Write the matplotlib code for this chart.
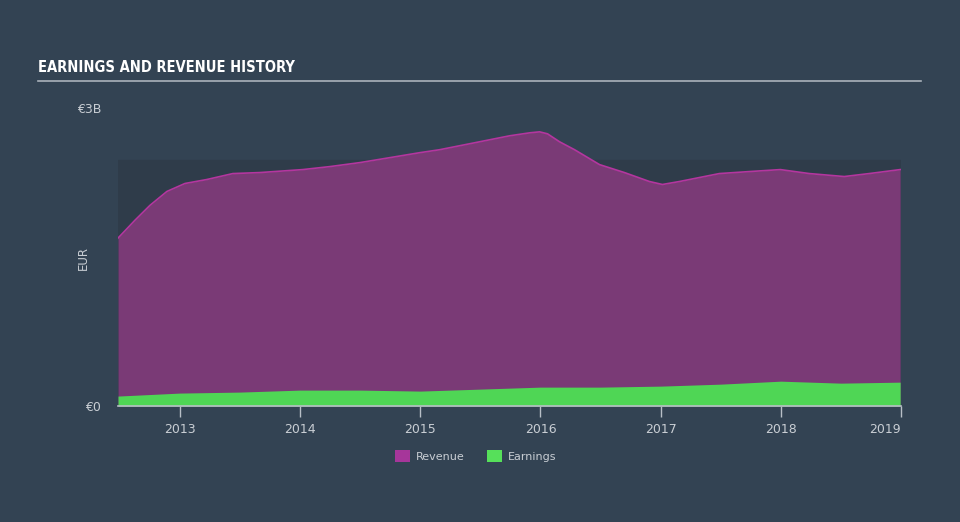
import matplotlib
matplotlib.use("Agg")
import matplotlib.pyplot as plt
from matplotlib.patches import Patch

# ---------------------------------------------------------------------------
# Data (EUR billions)
# ---------------------------------------------------------------------------
REV_YEARS = [2012.485, 2012.626, 2012.751, 2012.892, 2013.042, 2013.224, 2013.441,
             2013.665, 2014.022, 2014.247, 2014.496, 2014.746, 2014.995, 2015.161,
             2015.494, 2015.743, 2015.910, 2015.993, 2016.059, 2016.159, 2016.284,
             2016.492, 2016.699, 2016.907, 2017.015, 2017.157, 2017.489, 2017.738,
             2017.996, 2018.237, 2018.528, 2018.736, 2018.993]
REVENUE = [1.69, 1.87, 2.02, 2.16, 2.24, 2.28, 2.34,
           2.35, 2.38, 2.41, 2.45, 2.50, 2.55, 2.58,
           2.66, 2.72, 2.75, 2.76, 2.74, 2.66, 2.58,
           2.43, 2.35, 2.26, 2.23, 2.26, 2.34, 2.36,
           2.38, 2.34, 2.31, 2.34, 2.38]

EARN_YEARS = [2012.485, 2013.0, 2013.5, 2014.0, 2014.5, 2015.0, 2015.5, 2016.0,
              2016.5, 2017.0, 2017.5, 2018.0, 2018.5, 2018.993]
EARNINGS = [0.10, 0.13, 0.14, 0.16, 0.16, 0.15, 0.17, 0.19,
            0.19, 0.20, 0.22, 0.25, 0.23, 0.24]

X_TICKS = [2013, 2014, 2015, 2016, 2017, 2018, 2019]
Y_TICKS = [0, 3]
Y_LABELS = ["€0", "€3B"]

BG = "#334353"
BAND = "#2f3c4a"
TXT = "#c9ced4"
COL_REV_FILL = "#7a3a76"
COL_REV_LINE = "#b4369f"
COL_EARN = "#4fd655"

fig = plt.figure(figsize=(9.6, 5.22), dpi=100, facecolor=BG)
ax = fig.add_axes([118 / 960, 116 / 522, 783 / 960, 298 / 522])
ax.set_facecolor(BG)

x0, x1 = 2012.485, 2018.993
ax.axhspan(0, 2.48, color=BAND, zorder=0)

ax.fill_between(REV_YEARS, REVENUE, 0, color=COL_REV_FILL, lw=0, zorder=2)
ax.plot(REV_YEARS, REVENUE, color=COL_REV_LINE, lw=1.2, zorder=3,
        solid_joinstyle="round")
ax.fill_between(EARN_YEARS, EARNINGS, 0, color=COL_EARN, lw=0, zorder=4)

ax.set_xlim(x0, x1 + 0.005)
ax.set_ylim(0, 3)

for s in ["top", "right", "left"]:
    ax.spines[s].set_visible(False)
ax.spines["bottom"].set_color("#b8bfc7")
ax.spines["bottom"].set_linewidth(1.2)
ax.spines["bottom"].set_zorder(6)

ax.set_xticks(X_TICKS)
ax.set_xticklabels([str(y) for y in X_TICKS])
ax.tick_params(axis="x", colors="#b8bfc7", labelcolor=TXT, labelsize=9,
               length=8, width=1, pad=4)
ax.set_yticks(Y_TICKS)
ax.set_yticklabels(Y_LABELS)
ax.tick_params(axis="y", length=0, labelcolor=TXT, labelsize=9, pad=12)
ax.get_xticklabels()[-1].set_horizontalalignment("right")

fig.text(83 / 960, 1 - 258 / 522, "EUR", rotation=90, color=TXT,
         fontsize=8.5, ha="center", va="center")

# title and rule
fig.text(38 / 960, 1 - 68 / 522, "EARNINGS AND REVENUE HISTORY", color="white",
         fontsize=10.5, fontweight="bold", fontstretch="condensed",
         ha="left", va="center", family=["DejaVu Sans"])
fig.add_artist(plt.Line2D([38 / 960, 921 / 960], [1 - 81 / 522] * 2,
                          color="#aab2bb", lw=1.2))

handles = [Patch(facecolor="#a6369a", label="Revenue"),
           Patch(facecolor="#56e05a", label="Earnings")]
fig.legend(handles=handles, loc="center", bbox_to_anchor=(476 / 960, 1 - 456 / 522),
           ncol=2, frameon=False, fontsize=8, labelcolor=TXT,
           handlelength=1.3, handleheight=1.3, columnspacing=2.0, handletextpad=0.6)

fig.savefig("out.png", dpi=100, facecolor=BG)
